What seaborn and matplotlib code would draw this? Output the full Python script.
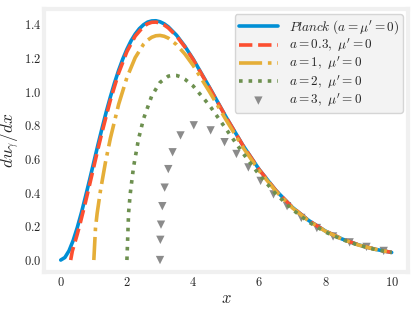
import numpy as np
import matplotlib
matplotlib.use("Agg")
import matplotlib.pyplot as plt
import seaborn as sns

# spectra
x_planck = [0, 0.125, 0.25, 0.375, 0.5, 0.625, 0.75, 0.875, 1, 1.125, 1.25, 1.375, 1.5,
            1.625, 1.75, 1.875, 2, 2.125, 2.25, 2.375, 2.5, 2.625, 2.75, 2.875, 3, 3.125,
            3.25, 3.5, 3.75, 4, 4.5, 5, 5.5, 6, 6.5, 7, 7.5, 8, 8.5, 9, 9.5, 10]
y_planck = [0, 0.015, 0.055, 0.116, 0.193, 0.281, 0.378, 0.479, 0.582, 0.685, 0.784, 0.880,
            0.969, 1.052, 1.127, 1.194, 1.252, 1.302, 1.342, 1.374, 1.397, 1.413, 1.420,
            1.421, 1.415, 1.403, 1.385, 1.335, 1.270, 1.194, 1.024, 0.848, 0.683, 0.537,
            0.414, 0.313, 0.234, 0.172, 0.125, 0.090, 0.064, 0.045]

x_a03 = [0.3, 0.35, 0.4, 0.5, 0.6, 0.75, 0.875, 1, 1.125, 1.25, 1.5, 1.75, 2, 2.25, 2.5,
         2.625, 2.75, 2.875, 3, 3.125, 3.25, 3.5, 3.75, 4, 4.5, 5, 5.5, 6, 6.5, 7, 7.5, 8,
         8.5, 9, 9.5, 10]
y_a03 = [0, 0.053, 0.086, 0.154, 0.228, 0.346, 0.450, 0.555, 0.660, 0.761, 0.950, 1.111,
         1.238, 1.330, 1.387, 1.403, 1.412, 1.413, 1.408, 1.396, 1.379, 1.330, 1.266,
         1.191, 1.021, 0.847, 0.682, 0.536, 0.413, 0.313, 0.233, 0.172, 0.125, 0.090,
         0.064, 0.045]

x_a1 = [1, 1.05, 1.1, 1.2, 1.35, 1.5, 1.75, 2, 2.25, 2.5, 2.625, 2.75, 2.875, 3, 3.125,
        3.25, 3.5, 3.75, 4, 4.5, 5, 5.5, 6, 6.5, 7, 7.5, 8, 8.5, 9, 9.5, 10]
y_a1 = [0, 0.190, 0.277, 0.412, 0.579, 0.723, 0.925, 1.084, 1.202, 1.281, 1.306, 1.323,
        1.332, 1.334, 1.329, 1.318, 1.279, 1.224, 1.156, 0.998, 0.831, 0.671, 0.529,
        0.409, 0.310, 0.231, 0.171, 0.124, 0.089, 0.064, 0.045]

x_a2 = [2, 2.05, 2.1, 2.2, 2.35, 2.5, 2.75, 3, 3.25, 3.375, 3.5, 3.625, 3.75, 4, 4.5, 5,
        5.5, 6, 6.5, 7, 7.5, 8, 8.5, 9, 9.5, 10]
y_a2 = [0, 0.279, 0.394, 0.553, 0.718, 0.838, 0.975, 1.055, 1.092, 1.097, 1.096, 1.088,
        1.074, 1.034, 0.917, 0.777, 0.636, 0.506, 0.393, 0.300, 0.225, 0.166, 0.122,
        0.088, 0.063, 0.045]

x_a3 = [3.0, 3.01, 3.03, 3.07, 3.14, 3.25, 3.38, 3.62, 4.02, 4.53, 4.95, 5.31, 5.67, 6.04,
        6.43, 6.84, 7.27, 7.74, 8.23, 8.73, 9.24, 9.76]
y_a3 = [0.0, 0.12, 0.21, 0.32, 0.43, 0.54, 0.64, 0.74, 0.80, 0.77, 0.70, 0.63, 0.55, 0.47,
        0.39, 0.32, 0.25, 0.19, 0.14, 0.105, 0.078, 0.054]

sns.set_style("white")
plt.rcParams['font.family'] = 'serif'
plt.rcParams['font.serif'] = ['cmr10']
plt.rcParams['mathtext.fontset'] = 'cm'
plt.rcParams['axes.formatter.use_mathtext'] = True

fig, ax = plt.subplots(figsize=(4.15, 3.10), dpi=100)
fig.subplots_adjust(left=0.1065, right=0.9836, bottom=0.1226, top=0.9716)

lw = 2.6
sns.lineplot(x=x_planck, y=y_planck, ax=ax, color='#008fd5', linewidth=lw,
             label=r"$Planck\ (a=\mu'=0)$")
sns.lineplot(x=x_a03, y=y_a03, ax=ax, color='#fc4f30', linewidth=lw, linestyle='--',
             label=r"$a=0.3,\ \mu'=0$")
sns.lineplot(x=x_a1, y=y_a1, ax=ax, color='#e5ae38', linewidth=lw, linestyle='-.',
             label=r"$a=1,\ \mu'=0$")
sns.lineplot(x=x_a2, y=y_a2, ax=ax, color='#6d904f', linewidth=lw, linestyle=':',
             label=r"$a=2,\ \mu'=0$")
sns.scatterplot(x=x_a3, y=y_a3, ax=ax, color='#8b8b8b', marker='v', s=36,
                edgecolor='none', label=r"$a=3,\ \mu'=0$")

ax.set_xlabel(r"$x$", fontsize=12, labelpad=1)
ax.set_ylabel(r"$du_\gamma/dx$", fontsize=12.5, labelpad=1)
ax.set_xticks([0, 2, 4, 6, 8, 10])
ax.set_yticks([0.0, 0.2, 0.4, 0.6, 0.8, 1.0, 1.2, 1.4])
ax.tick_params(labelsize=9, length=0)
ax.tick_params(axis='x', pad=3)
ax.tick_params(axis='y', pad=2)
for sp in ax.spines.values():
    sp.set_color('#f0f0f0')
    sp.set_linewidth(3)

leg = ax.legend(loc='upper right', fontsize=9.5, handlelength=3.0, labelspacing=0.05,
                borderpad=0.3, borderaxespad=0.4, facecolor='#f0f0f0', edgecolor='0.8',
                framealpha=0.8, fancybox=True)

fig.savefig("out.png", dpi=100)
